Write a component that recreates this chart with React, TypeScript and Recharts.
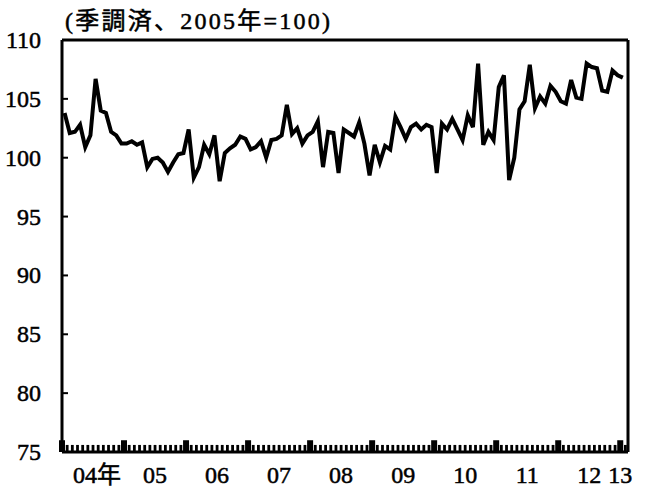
import React from 'react';
import { LineChart, Line, XAxis, YAxis, ReferenceLine } from 'recharts';

// monthly values, Jan..Dec (seasonally adjusted, 2005=100)
const y2004 = [103.8, 102.1, 102.2, 102.8, 100.9, 101.9, 106.7, 104.0, 103.8, 102.2, 101.9, 101.2];
const y2005 = [101.2, 101.4, 101.1, 101.3, 99.2, 99.9, 100.0, 99.6, 98.8, 99.6, 100.3, 100.4];
const y2006 = [102.4, 98.3, 99.2, 101.1, 100.3, 101.9, 98.0, 100.4, 100.8, 101.1, 101.8, 101.6];
const y2007 = [100.7, 100.9, 101.4, 100.0, 101.5, 101.6, 101.9, 104.5, 102.0, 102.5, 101.2, 101.9];
const y2008 = [102.2, 103.1, 99.2, 102.2, 102.1, 98.7, 102.4, 102.1, 101.8, 103.0, 101.2, 98.5];
const y2009 = [101.1, 99.6, 101.0, 100.7, 103.5, 102.6, 101.6, 102.6, 102.9, 102.4, 102.8, 102.6];
const y2010 = [98.7, 102.9, 102.4, 103.3, 102.4, 101.5, 103.6, 102.6, 108.0, 101.1, 102.2, 101.5];
const y2011 = [106.0, 107.0, 98.1, 100.0, 104.1, 104.8, 107.9, 104.2, 105.2, 104.6, 106.1, 105.6];
const y2012 = [104.8, 104.6, 106.6, 105.1, 105.0, 108.0, 107.7, 107.6, 105.7, 105.6, 107.4, 107.0];
const y2013 = [106.8];

const yearLabels = ['04年', '05', '06', '07', '08', '09', '10', '11', '12', '13'];
const yTicks = [75, 80, 85, 90, 95, 100, 105, 110];
const title = '(季調済、2005年=100)';

const values = [...y2004, ...y2005, ...y2006, ...y2007, ...y2008, ...y2009, ...y2010, ...y2011, ...y2012, ...y2013];
// each month sits in the middle of its slot on the month axis
const data = values.map((v, i) => ({ t: i + 0.5, v }));
const monthTicks = Array.from({ length: values.length + 1 }, (_, i) => i);
const labelTicks = [6, 18, 30, 42, 54, 66, 78, 90, 102, 108];

const FONT = "'Liberation Serif', 'Times New Roman', 'Noto Sans CJK JP', serif";
// a little stroke on the glyphs to get the heavier printed look
const INK = { stroke: '#000', strokeWidth: 0.5 };

// year labels under the axis
const YearTick = (props: any) => {
  const { x, y, payload, index } = props;
  return (
    <text
      x={x + (index === 0 ? 4 : 0)}
      y={y + 31}
      textAnchor="middle"
      fontSize={24}
      fill="#000"
      {...INK}
      style={{ fontFamily: FONT }}
    >
      {yearLabels[index] ?? payload.value}
    </text>
  );
};

const ValueTick = (props: any) => {
  const { x, y, payload } = props;
  return (
    <g>
      <line x1={x} x2={x + 6} y1={y} y2={y} stroke="#000" strokeWidth={2} />
      <text x={x - 21} y={y + 8} textAnchor="end" fontSize={24} fill="#000" {...INK} style={{ fontFamily: FONT }}>
        {payload.value}
      </text>
    </g>
  );
};

export default function App() {
  return (
    <div style={{ position: 'absolute', left: 0, top: 0, width: 647, height: 497, background: '#fff' }}>
      <LineChart width={647} height={497} data={data} margin={{ top: 40, right: 19, bottom: 0, left: 0 }}>
        <XAxis
          dataKey="t"
          type="number"
          domain={[0, 109.5]}
          ticks={labelTicks}
          interval={0}
          tick={<YearTick />}
          tickLine={false}
          tickSize={0}
          tickMargin={0}
          height={45}
          axisLine={{ stroke: '#000', strokeWidth: 3 }}
        />
        <YAxis
          type="number"
          domain={[75, 110]}
          ticks={yTicks}
          interval={0}
          tick={<ValueTick />}
          tickLine={false}
          tickSize={0}
          tickMargin={0}
          width={62}
          axisLine={{ stroke: '#000', strokeWidth: 3 }}
        />
        <ReferenceLine y={110} stroke="#000" strokeWidth={3} />
        <ReferenceLine x={109.5} stroke="#000" strokeWidth={3} />
        {/* month comb along the bottom, heavier blocks at each January */}
        {monthTicks.map((m) => (
          <ReferenceLine
            key={`comb-${m}`}
            segment={[{ x: m, y: 75 }, { x: m, y: m % 12 === 0 ? 76 : 75.6 }]}
            stroke="#000"
            strokeWidth={m % 12 === 0 ? 6 : 2.8}
            ifOverflow="visible"
          />
        ))}
        <Line
          type="linear"
          dataKey="v"
          stroke="#000"
          strokeWidth={4}
          dot={false}
          isAnimationActive={false}
        />
      </LineChart>
      <svg width={647} height={40} style={{ position: 'absolute', left: 0, top: 0 }}>
        <text
          x={65}
          y={29}
          fontSize={24}
          fill="#000"
          {...INK}
          textLength={265}
          lengthAdjust="spacing"
          style={{ fontFamily: FONT }}
        >
          {title}
        </text>
      </svg>
    </div>
  );
}
